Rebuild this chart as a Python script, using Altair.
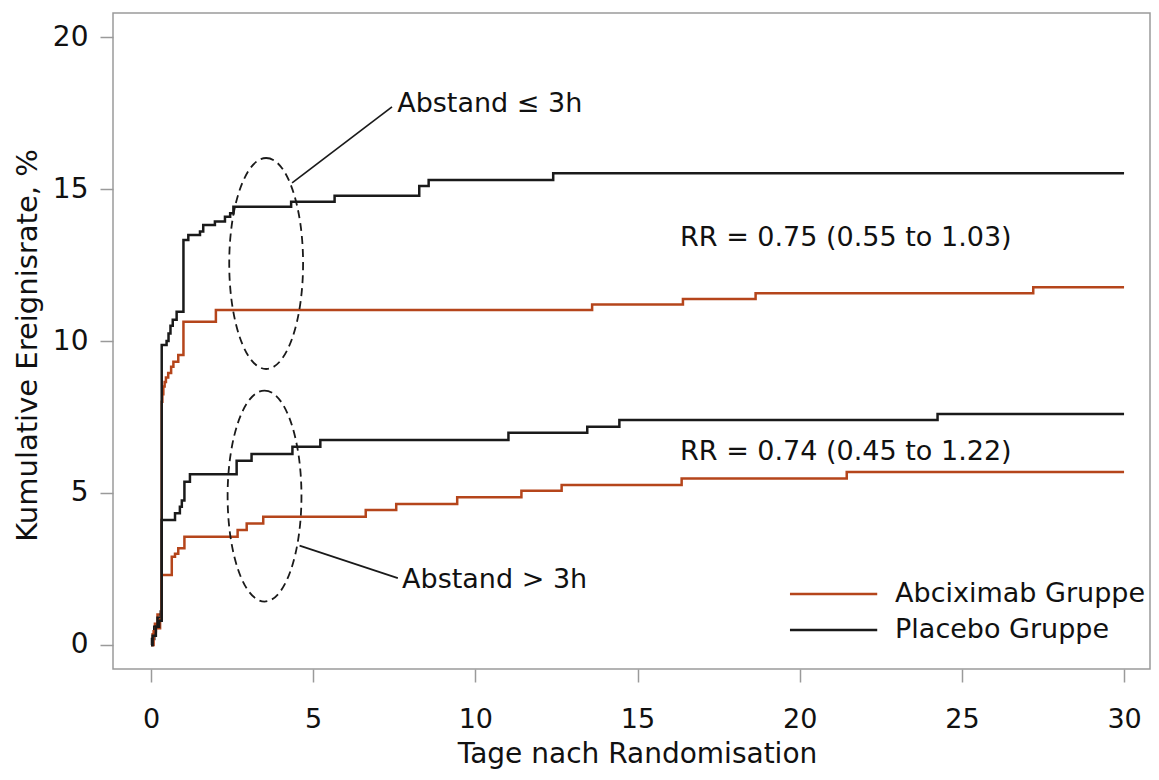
import altair as alt
import pandas as pd

FONT = "DejaVu Sans"
RED = "#B5451B"
BLACK = "#1A1A1A"
GRAY = "#9A9A9A"

# ---- data (days, cumulative event rate %) ----
# Abciximab, Abstand <= 3h
abc_early_t = [0, 0.05, 0.12, 0.2, 0.33, 0.35, 0.38, 0.42, 0.46, 0.53, 0.62, 0.69, 0.84, 1.0, 2.0, 13.6, 16.4, 18.64, 27.2, 30]
abc_early_v = [0, 0.35, 0.7, 1.0, 8.0, 8.25, 8.5, 8.65, 8.8, 8.95, 9.15, 9.32, 9.54, 10.63, 11.02, 11.2, 11.38, 11.57, 11.77, 11.77]
# Placebo, Abstand <= 3h
pla_early_t = [0, 0.03, 0.1, 0.2, 0.3, 0.33, 0.48, 0.54, 0.6, 0.67, 0.79, 1.0, 1.15, 1.51, 1.61, 1.97, 2.28, 2.44, 2.54, 4.32, 5.66, 8.27, 8.56, 12.4, 30]
pla_early_v = [0, 0.2, 0.6, 0.9, 1.1, 9.87, 10.0, 10.25, 10.5, 10.7, 10.96, 13.32, 13.49, 13.6, 13.82, 13.93, 14.09, 14.2, 14.42, 14.58, 14.78, 15.1, 15.3, 15.52, 15.52]
# Abciximab, Abstand > 3h
abc_late_t = [0, 0.08, 0.15, 0.28, 0.33, 0.64, 0.74, 0.84, 1.03, 2.67, 2.95, 3.46, 6.62, 7.56, 9.44, 11.42, 12.66, 16.36, 21.45, 30]
abc_late_v = [0, 0.45, 0.55, 0.85, 2.3, 2.9, 3.0, 3.18, 3.56, 3.78, 4.0, 4.22, 4.44, 4.64, 4.86, 5.07, 5.26, 5.48, 5.69, 5.69]
# Placebo, Abstand > 3h
pla_late_t = [0, 0.05, 0.15, 0.25, 0.33, 0.74, 0.89, 0.95, 1.03, 1.2, 2.64, 3.1, 4.36, 5.22, 11.02, 13.45, 14.44, 24.25, 30]
pla_late_v = [0, 0.3, 0.6, 0.8, 4.11, 4.33, 4.55, 4.75, 5.37, 5.62, 6.06, 6.28, 6.52, 6.74, 6.98, 7.18, 7.4, 7.6, 7.6]

groups = ["Abciximab Gruppe", "Placebo Gruppe"]
x_ticks = [0, 5, 10, 15, 20, 25, 30]
y_ticks = [0, 5, 10, 15, 20]

# ellipses (centre in data units)
ell_t = [3.55, 3.5]
ell_v = [12.55, 4.9]

# annotation leader lines
lead_t = [4.35, 4.58]
lead_v = [15.2, 3.27]
lead_t2 = [7.43, 7.61]
lead_v2 = [17.7, 2.2]

# annotation texts
ann_labels = ["Abstand \u2264 3h", "Abstand > 3h", "RR = 0.75 (0.55 to 1.03)", "RR = 0.74 (0.45 to 1.22)"]
ann_t = [7.59, 7.74, 16.31, 16.31]
ann_v = [17.8, 2.14, 13.39, 6.35]

# legend
leg_t = [19.7, 19.7]
leg_t2 = [22.39, 22.39]
leg_v = [1.68, 0.49]
leg_text_t = [22.94, 22.94]

# ---- build tables ----
rows = []
for grp, strat, ts, vs in [
    (groups[0], "early", abc_early_t, abc_early_v),
    (groups[1], "early", pla_early_t, pla_early_v),
    (groups[0], "late", abc_late_t, abc_late_v),
    (groups[1], "late", pla_late_t, pla_late_v),
]:
    for t, v in zip(ts, vs):
        rows.append({"group": grp, "stratum": strat, "t": t, "v": v})
curves_df = pd.DataFrame(rows)

ell_df = pd.DataFrame({"t": ell_t, "v": ell_v})
lead_df = pd.DataFrame({"t": lead_t, "v": lead_v, "t2": lead_t2, "v2": lead_v2})
ann_df = pd.DataFrame({"t": ann_t, "v": ann_v, "label": ann_labels})
leg_df = pd.DataFrame({"t": leg_t, "t2": leg_t2, "v": leg_v, "group": groups, "tt": leg_text_t})

xscale = alt.Scale(domain=[-1.172, 30.80], nice=False, zero=False)
yscale = alt.Scale(domain=[-0.79, 20.79], nice=False, zero=False)
cscale = alt.Scale(domain=groups, range=[RED, BLACK])

xaxis = alt.Axis(
    values=x_ticks, format="d", domain=False, grid=False,
    tickSize=13, tickColor=GRAY, tickWidth=1.5,
    labelFont=FONT, labelFontSize=27, labelColor="#111", labelPadding=24,
    labelFlush=False, labelOverlap=False,
    title="Tage nach Randomisation", titleFont=FONT, titleFontSize=28,
    titleFontWeight="normal", titleColor="#111",
    titleX=524, titleY=93, titleBaseline="alphabetic", titleAlign="center",
)
yaxis = alt.Axis(
    values=y_ticks, format="d", domain=False, grid=False,
    tickSize=13, tickColor=GRAY, tickWidth=1.5,
    labelFont=FONT, labelFontSize=28, labelColor="#111", labelPadding=12,
    labelFlush=False, labelOverlap=False,
    title="Kumulative Ereignisrate, %", titleFont=FONT, titleFontSize=29,
    titleFontWeight="normal", titleColor="#111",
    titleX=-86, titleY=332, titleAngle=270, titleBaseline="middle", titleAlign="center",
)

curves = alt.Chart(curves_df).mark_line(interpolate="step-after", strokeWidth=2.5).encode(
    x=alt.X("t:Q", scale=xscale, axis=xaxis),
    y=alt.Y("v:Q", scale=yscale, axis=yaxis),
    color=alt.Color("group:N", scale=cscale, legend=None),
    detail="stratum:N",
)

a = 0.35
k = 0.5523 * a
ell_path = (
    f"M 0 -1 C {k} -1 {a} -0.5523 {a} 0 "
    f"C {a} 0.5523 {k} 1 0 1 "
    f"C {-k} 1 {-a} 0.5523 {-a} 0 "
    f"C {-a} -0.5523 {-k} -1 0 -1 Z"
)
ellipses = alt.Chart(ell_df).mark_point(
    shape=ell_path, size=44521, filled=False, stroke=BLACK,
    strokeWidth=1.8, strokeDash=[8, 5], opacity=1,
).encode(
    x=alt.X("t:Q", scale=xscale),
    y=alt.Y("v:Q", scale=yscale),
)

leaders = alt.Chart(lead_df).mark_rule(color=BLACK, strokeWidth=1.7).encode(
    x=alt.X("t:Q", scale=xscale),
    y=alt.Y("v:Q", scale=yscale),
    x2="t2:Q",
    y2="v2:Q",
)

ann = alt.Chart(ann_df).mark_text(
    align="left", baseline="middle", font=FONT, fontSize=27, color="#111"
).encode(
    x=alt.X("t:Q", scale=xscale),
    y=alt.Y("v:Q", scale=yscale),
    text="label:N",
)

leg_lines = alt.Chart(leg_df).mark_rule(strokeWidth=2.5).encode(
    x=alt.X("t:Q", scale=xscale),
    x2="t2:Q",
    y=alt.Y("v:Q", scale=yscale),
    color=alt.Color("group:N", scale=cscale, legend=None),
)
leg_text = alt.Chart(leg_df).mark_text(
    align="left", baseline="middle", font=FONT, fontSize=27, color="#111"
).encode(
    x=alt.X("tt:Q", scale=xscale),
    y=alt.Y("v:Q", scale=yscale),
    text="group:N",
)

chart = alt.layer(curves, ellipses, leaders, ann, leg_lines, leg_text).properties(
    width=1037,
    height=656,
    autosize=alt.AutoSizeParams(type="none"),
    padding={"left": 105, "top": 5, "right": 1, "bottom": 100},
    background="white",
).configure_view(stroke=GRAY, strokeWidth=1.5)

chart.save("out.html", embed_options={"renderer": "svg", "actions": False})
